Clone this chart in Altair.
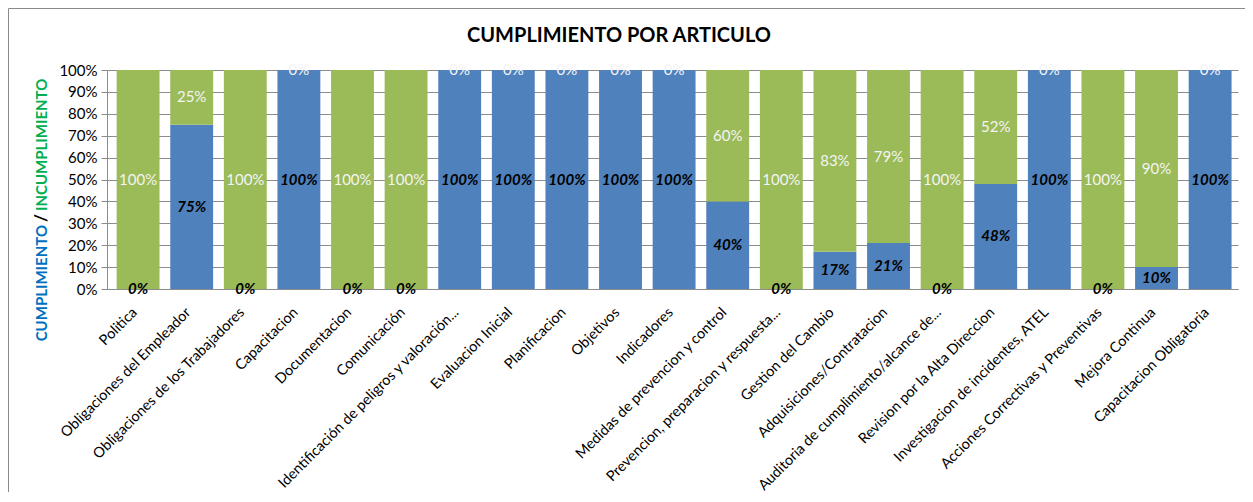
import altair as alt
import pandas as pd

categories = [
    "Politica",
    "Obligaciones del Empleador",
    "Obligaciones de los Trabajadores",
    "Capacitacion",
    "Documentacion",
    "Comunicación",
    "Identificación de peligros y valoración...",
    "Evaluacion Inicial",
    "Planificacion",
    "Objetivos",
    "Indicadores",
    "Medidas de prevencion y control",
    "Prevencion, preparacion y respuesta...",
    "Gestion del Cambio",
    "Adquisiciones/Contratacion",
    "Auditoria de cumplimiento/alcance de...",
    "Revision por la Alta Direccion",
    "Investigacion de incidentes, ATEL",
    "Acciones Correctivas y Preventivas",
    "Mejora Continua",
    "Capacitacion Obligatoria",
]
cumplimiento = [0, 75, 0, 100, 0, 0, 100, 100, 100, 100, 100, 40, 0, 17, 21, 0, 48, 100, 0, 10, 100]
incumplimiento = [100, 25, 100, 0, 100, 100, 0, 0, 0, 0, 0, 60, 100, 83, 79, 100, 52, 0, 100, 90, 0]

title_text = "CUMPLIMIENTO POR ARTICULO"
ytitle_parts = ["CUMPLIMIENTO", "/", "INCUMPLIMIENTO"]

BLUE = "#4f81bd"
GREEN = "#9bbb59"
GRID = "#8c8c8c"
FONT = "Lato"

df = pd.DataFrame({"cat": categories, "c": cumplimiento, "i": incumplimiento})
one = pd.DataFrame({"a": [0]})

W, H = 1131, 219

xenc = alt.X(
    "cat:N",
    sort=categories,
    scale=alt.Scale(paddingInner=0.2, paddingOuter=0.15, align=0.6),
    axis=alt.Axis(
        title=None, labelAngle=315, labelFontSize=14.5, labelFont=FONT,
        labelColor="black", ticks=False, domainColor=GRID, labelPadding=21,
        labelOffset=-3, labelAlign="right", labelBaseline="middle", labelLimit=400,
    ),
)

yscale = alt.Scale(domain=[0, 100], nice=False)
yaxis = alt.Axis(
    title=None, values=list(range(0, 101, 10)), labelExpr="datum.value + '%'",
    labelFontSize=15, labelFont=FONT, labelColor="black", tickSize=6,
    tickColor=GRID, domainColor=GRID, gridColor=GRID, grid=True, labelPadding=4,
)

base = alt.Chart(df).transform_calculate(
    zero="0",
    top="100",
    cmid="datum.c / 2",
    imid="datum.c + datum.i / 2",
    clab="datum.c + '%'",
    ilab="datum.i + '%'",
).encode(x=xenc)

blue = base.mark_bar(color=BLUE).encode(
    y=alt.Y("zero:Q", scale=yscale, axis=yaxis), y2="c:Q"
)
green = base.mark_bar(color=GREEN).encode(
    y=alt.Y("c:Q", scale=yscale, axis=yaxis), y2="top:Q"
)
green_text = base.mark_text(
    font=FONT, fontSize=15, color="#f4f4f4", baseline="middle"
).encode(y=alt.Y("imid:Q", scale=yscale, axis=yaxis), text="ilab:N")
blue_text = base.mark_text(
    font=FONT, fontSize=15, fontWeight="bold", fontStyle="italic",
    color="black", baseline="middle",
).encode(y=alt.Y("cmid:Q", scale=yscale, axis=yaxis), text="clab:N")

frame = alt.Chart(one).mark_rect(
    fillOpacity=0, stroke="#8a8a8a", strokeWidth=1
).encode(
    x=alt.value(-98.5), x2=alt.value(W + 50), y=alt.value(-61.5), y2=alt.value(H + 300)
)

title = alt.Chart(one).mark_text(
    font=FONT, fontSize=20, fontWeight="bold", color="black",
    align="center", baseline="middle",
).encode(x=alt.value(512), y=alt.value(-34), text=alt.value(title_text))

yt1 = alt.Chart(one).mark_text(
    font=FONT, fontSize=15, fontWeight="bold", color="#0070c0",
    angle=270, align="right", baseline="middle",
).encode(x=alt.value(-65), y=alt.value(155), text=alt.value(ytitle_parts[0]))
yt2 = alt.Chart(one).mark_text(
    font=FONT, fontSize=17, fontWeight="bold", color="black",
    angle=270, align="center", baseline="middle",
).encode(x=alt.value(-65), y=alt.value(148), text=alt.value(ytitle_parts[1]))
yt3 = alt.Chart(one).mark_text(
    font=FONT, fontSize=15, fontWeight="bold", color="#00b050",
    angle=270, align="left", baseline="middle",
).encode(x=alt.value(-65), y=alt.value(141), text=alt.value(ytitle_parts[2]))

chart = alt.layer(
    frame, blue, green, green_text, blue_text, title, yt1, yt2, yt3
).properties(
    width=W, height=H,
    autosize=alt.AutoSizeParams(type="none"),
    padding={"left": 99, "top": 62, "right": 7, "bottom": 203},
).configure(font=FONT).configure_view(stroke=None)

chart.save("out.html", embed_options={"renderer": "svg", "actions": False})
